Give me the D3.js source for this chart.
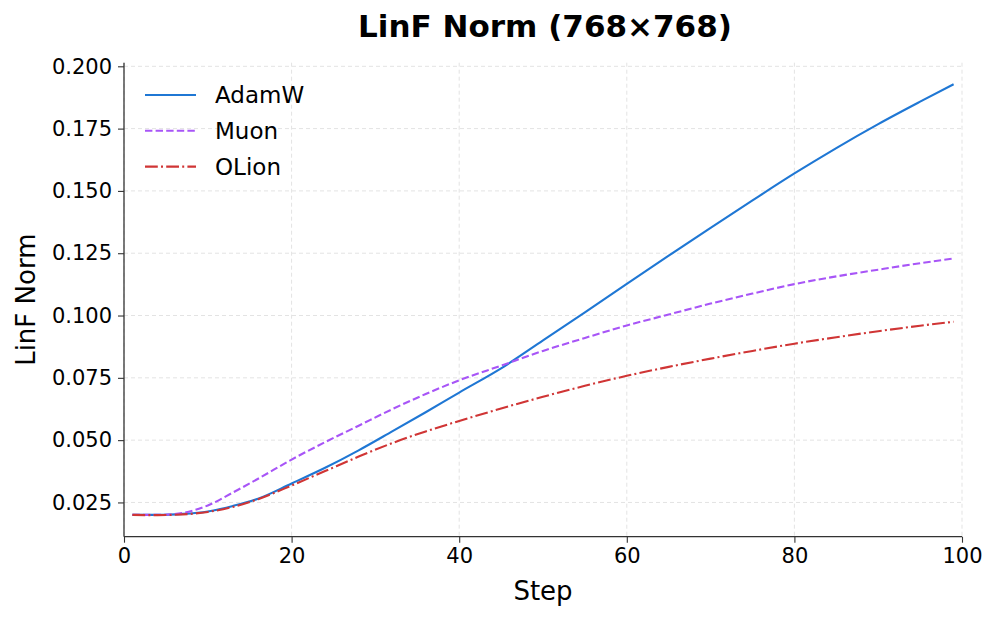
<!DOCTYPE html>
<html>
<head>
<meta charset="utf-8">
<script src="https://cdn.jsdelivr.net/npm/d3@7/dist/d3.min.js"></script>
<style>
  html, body { margin: 0; padding: 0; background: #fff; }
  svg { display: block; font-family: "DejaVu Sans", sans-serif; }
</style>
</head>
<body>
<svg id="chart" width="997" height="618"></svg>
<script>
const steps = [1, 4, 7, 10, 13, 16, 20, 24, 28, 32, 36, 40, 45, 50, 55, 60, 65, 70, 75, 80, 85, 90, 95, 99];
const adamw = [0.0200, 0.0200, 0.0204, 0.0214, 0.0236, 0.0265, 0.0326, 0.0389, 0.0459, 0.0535, 0.0612, 0.0691, 0.0788, 0.0900, 0.1013, 0.1127, 0.1240, 0.1352, 0.1462, 0.1570, 0.1672, 0.1768, 0.1858, 0.1928];
const muon  = [0.0200, 0.0200, 0.0208, 0.0238, 0.0290, 0.0345, 0.0422, 0.0492, 0.0558, 0.0624, 0.0685, 0.0740, 0.0799, 0.0858, 0.0910, 0.0960, 0.1004, 0.1048, 0.1088, 0.1126, 0.1157, 0.1184, 0.1210, 0.1229];
const olion = [0.0200, 0.0199, 0.0202, 0.0212, 0.0232, 0.0263, 0.0318, 0.0376, 0.0434, 0.0488, 0.0535, 0.0577, 0.0627, 0.0674, 0.0718, 0.0758, 0.0794, 0.0827, 0.0858, 0.0887, 0.0913, 0.0937, 0.0959, 0.0975];
const seriesNames = ["AdamW", "Muon", "OLion"];
const xTicks = [0, 20, 40, 60, 80, 100];
const yTicks = [0.025, 0.050, 0.075, 0.100, 0.125, 0.150, 0.175, 0.200];
const titleText = "LinF Norm (768×768)";
const xLabel = "Step";
const yLabel = "LinF Norm";

const colors = ["#1f77d4", "#a855f7", "#d03535"];
const dashes = [null, "7.4,3.2", "12.8,3.2,2,3.2"];

const svg = d3.select("#chart");
const m = { left: 124, right: 962, top: 62.7, bottom: 536.7 };

const allVals = adamw.concat(muon, olion);
const lo = d3.min(allVals), hi = d3.max(allVals);
const pad = (hi - lo) * 0.05;

const x = d3.scaleLinear().domain([0, 100]).range([m.left, m.right]);
const y = d3.scaleLinear().domain([lo - pad, hi + pad]).range([m.bottom, m.top]);

// grid
const grid = svg.append("g");
grid.selectAll("line.gx").data(xTicks).join("line")
  .attr("x1", d => x(d)).attr("x2", d => x(d))
  .attr("y1", m.top).attr("y2", m.bottom)
  .attr("stroke", "#e3e3e3").attr("stroke-width", 1).attr("stroke-dasharray", "4,3");
grid.selectAll("line.gy").data(yTicks).join("line")
  .attr("x1", m.left).attr("x2", m.right)
  .attr("y1", d => y(d)).attr("y2", d => y(d))
  .attr("stroke", "#e3e3e3").attr("stroke-width", 1).attr("stroke-dasharray", "4,3");

// lines
const series = [adamw, muon, olion];
const line = d3.line().x(d => x(d[0])).y(d => y(d[1])).curve(d3.curveMonotoneX);
series.forEach((vals, i) => {
  svg.append("path")
    .datum(steps.map((s, j) => [s, vals[j]]))
    .attr("d", line)
    .attr("fill", "none")
    .attr("stroke", colors[i])
    .attr("stroke-width", 2.1)
    .attr("stroke-dasharray", dashes[i]);
});

// axes
const xAxis = d3.axisBottom(x).tickValues(xTicks).tickFormat(d3.format("d")).tickSize(6).tickPadding(5);
const yAxis = d3.axisLeft(y).tickValues(yTicks).tickFormat(d3.format(".3f")).tickSize(6).tickPadding(6);

const gx = svg.append("g").attr("transform", `translate(0,${m.bottom})`).call(xAxis);
const gy = svg.append("g").attr("transform", `translate(${m.left},0)`).call(yAxis);
[gx, gy].forEach(g => {
  g.select(".domain").attr("stroke", "#333").attr("stroke-width", 1.3);
  g.selectAll(".tick line").attr("stroke", "#333").attr("stroke-width", 1.1);
  g.selectAll(".tick text").attr("fill", "#000").attr("font-size", 21).attr("font-family", "DejaVu Sans");
});
gy.select(".domain").attr("d", `M0,${m.bottom}V${m.top}`);
gx.select(".domain").attr("d", `M${m.left},0H${m.right}`);

// title
svg.append("text")
  .attr("x", (m.left + m.right) / 2 + 2).attr("y", 37)
  .attr("text-anchor", "middle").attr("font-size", 31).attr("font-weight", "bold")
  .text(titleText);

// axis labels
svg.append("text")
  .attr("x", (m.left + m.right) / 2).attr("y", 600)
  .attr("text-anchor", "middle").attr("font-size", 26)
  .text(xLabel);
svg.append("text")
  .attr("transform", `translate(35,${(m.top + m.bottom) / 2}) rotate(-90)`)
  .attr("text-anchor", "middle").attr("font-size", 26)
  .text(yLabel);

// legend
const leg = svg.append("g");
seriesNames.forEach((name, i) => {
  const yy = 95 + i * 35.8;
  leg.append("line")
    .attr("x1", 145).attr("x2", 196).attr("y1", yy).attr("y2", yy)
    .attr("stroke", colors[i]).attr("stroke-width", 2.1)
    .attr("stroke-dasharray", dashes[i]);
  leg.append("text")
    .attr("x", 215).attr("y", yy + 8)
    .attr("font-size", 23)
    .text(name);
});
</script>
</body>
</html>
